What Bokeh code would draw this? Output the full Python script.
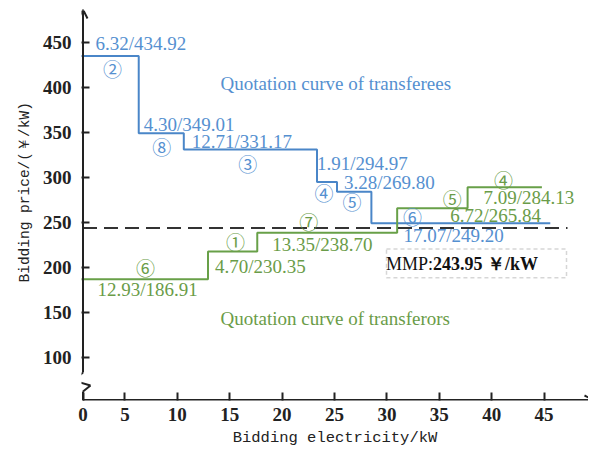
import math
from bokeh.plotting import figure
from bokeh.models import (FixedTicker, CustomJSTickFormatter, Arrow, OpenHead, Title,
                          BoxAnnotation, ColumnDataSource, Range1d)
from bokeh.core.properties import value
from bokeh.embed import file_html
from bokeh.resources import INLINE

# ---------------- data ----------------
buyer_qty = [6.32, 4.30, 12.71, 1.91, 3.28, 17.07]
buyer_price = [434.92, 349.01, 331.17, 294.97, 269.80, 249.20]      # quoted values (labels)
buyer_level = [434.92, 349.01, 331.17, 294.97, 284.0, 249.20]       # levels as drawn
buyer_ids = ["②", "⑧", "③", "④", "⑤", "⑥"]

seller_qty = [12.93, 4.70, 13.35, 6.72, 7.09]
seller_price = [186.91, 230.35, 238.70, 265.84, 284.13]
seller_level = [186.91, 217.6, 238.70, 265.84, 289.0]
seller_ids = ["⑥", "①", "⑦", "⑤", "④"]

mmp = 243.95
x_ticks = [5, 10, 15, 20, 25, 30, 35, 40, 45]
y_ticks = [100, 150, 200, 250, 300, 350, 400, 450]

# ---------------- layout ----------------
W, H = 588, 449
XS = 10.48            # px per kW
YS = 0.9025           # px per price unit
def X(px):
    return (px - 72) / XS
def Y(py):
    return 450 - (py - 42) / YS

BL, BR, BT = 81, 0, 10
BB = H - 401
x0, x1 = X(BL), X(W - BR)
y0, y1 = Y(401), Y(BT)
xa = X(82.5)          # position of drawn y axis

BLUE = "#4a86c8"
BLUE_T = "#5590d0"
GREEN = "#68a048"
GREEN_T = "#6a9c48"
DARK = "#222222"
SERIF = "Liberation Serif"
MONO = "Liberation Mono"
CIRC = "Noto Sans CJK SC"

p = figure(width=W, height=H, output_backend="svg", toolbar_location=None,
           x_range=Range1d(x0, x1), y_range=Range1d(y0, y1),
           min_border_left=BL, min_border_right=BR, min_border_top=BT, min_border_bottom=BB)
p.outline_line_color = None
p.grid.visible = False
p.background_fill_color = "white"
p.border_fill_color = "white"

for ax in (p.xaxis[0], p.yaxis[0]):
    ax.axis_line_color = None
    ax.major_tick_in = 8
    ax.major_tick_out = 0
    ax.minor_tick_in = 0
    ax.minor_tick_out = 0
    ax.major_tick_line_width = 2
    ax.major_tick_line_color = DARK
    ax.major_label_text_font = SERIF
    ax.major_label_text_font_size = "19px"
    ax.major_label_text_font_style = "bold"
    ax.major_label_text_color = DARK

p.xaxis.ticker = FixedTicker(ticks=[xa] + x_ticks)
p.xaxis.formatter = CustomJSTickFormatter(code="return tick < 2 ? '0' : tick.toFixed(0);")
p.xaxis.major_label_standoff = 7
p.xaxis.axis_label = "Bidding electricity/kW"
p.xaxis.axis_label_text_font = MONO
p.xaxis.axis_label_text_font_size = "15.5px"
p.xaxis.axis_label_text_font_style = "normal"
p.xaxis.axis_label_text_color = DARK
p.xaxis.axis_label_standoff = 5

p.yaxis.ticker = FixedTicker(ticks=y_ticks)
p.yaxis.major_label_standoff = 10

p.add_layout(Title(text="Bidding price/(￥/kW)", align="left", offset=118,
                   text_font=MONO, text_font_size="14.5px", text_font_style="normal",
                   text_color=DARK, standoff=14), "left")

# axes drawn as arrows (with a break on the y axis)
def seg(xa_, ya, xb, yb, head=False):
    p.add_layout(Arrow(x_start=xa_, y_start=ya, x_end=xb, y_end=yb, line_width=2,
                       line_color=DARK,
                       end=OpenHead(size=9, line_width=2, line_color=DARK) if head else None))

seg(xa, y0, xa, Y(392))
seg(xa, Y(392), X(90), Y(386))
seg(X(90), Y(386), X(73), Y(381))
seg(X(73), Y(381), xa, Y(373))
seg(xa, Y(373), xa, Y(9), head=True)
seg(xa, Y(400.5), X(593), Y(400.5), head=True)

# ---------------- step curves ----------------
def cum(q):
    out = [0.0]
    for v in q:
        out.append(out[-1] + v)
    return out

bx = cum(buyer_qty)
sx = cum(seller_qty)
p.step(bx, buyer_level + [buyer_level[-1]], mode="after", line_color=BLUE, line_width=2)
p.step(sx, seller_level + [seller_level[-1]], mode="after", line_color=GREEN, line_width=2)

# MMP line
p.line([xa, X(567)], [mmp, mmp], line_color="#333333", line_width=2, line_dash="14 7")

# ---------------- labels ----------------
def place(starts, levels, offs):
    xs, ys = [], []
    for s, lv, (dx, dy) in zip(starts, levels, offs):
        xs.append(s + dx / XS)
        ys.append(lv - dy / YS)
    return xs, ys

b_val_off = [(23, -12.6), (5, -9), (8, -8), (0, -19), (7, -9), (32, 12)]
b_id_off = [(40, 13), (23, 13), (64, 14), (7, 11), (15, 10), (41, -7)]
s_val_off = [(25, 10), (7, 15), (15, 12), (53, 7), (16, 10)]
s_id_off = [(73, -12), (27.5, -10.5), (51.5, -11), (55, -10), (36, -7.5)]

def texts(starts, levels, offs, strings, color, font, size, align):
    xs, ys = place(starts, levels, offs)
    src = ColumnDataSource(dict(x=xs, y=ys, t=strings))
    p.text(x="x", y="y", text="t", source=src, text_color=color,
           text_font=value(font), text_font_size=value(size),
           text_align=align, text_baseline="middle")

b_str = [f"{q:.2f}/{v:.2f}" for q, v in zip(buyer_qty, buyer_price)]
s_str = [f"{q:.2f}/{v:.2f}" for q, v in zip(seller_qty, seller_price)]
texts(bx[:-1], buyer_level, b_val_off, b_str, BLUE_T, SERIF, "19px", "left")
texts(bx[:-1], buyer_level, b_id_off, buyer_ids, BLUE_T, CIRC, "19px", "center")
texts(sx[:-1], seller_level, s_val_off, s_str, GREEN_T, SERIF, "19px", "left")
texts(sx[:-1], seller_level, s_id_off, seller_ids, GREEN_T, CIRC, "19px", "center")

p.text(x=[X(220)], y=[Y(83.5)], text=["Quotation curve of transferees"],
       text_color=BLUE_T, text_font=value(SERIF), text_font_size=value("19px"),
       text_align="left", text_baseline="middle")
p.text(x=[X(220)], y=[Y(318.5)], text=["Quotation curve of transferors"],
       text_color=GREEN_T, text_font=value(SERIF), text_font_size=value("19px"),
       text_align="left", text_baseline="middle")

# MMP box
p.text(x=[X(432.5)], y=[Y(264.5)], text=["MMP:"], text_color="#111111",
       text_font=value(SERIF), text_font_size=value("18px"), text_align="right",
       text_baseline="middle")
p.text(x=[X(432.5)], y=[Y(264.5)], text=["243.95 ￥/kW"], text_color="#111111",
       text_font=value(SERIF), text_font_size=value("18px"), text_font_style="bold",
       text_align="left", text_baseline="middle")
p.add_layout(BoxAnnotation(left=X(386), right=X(566), top=Y(249), bottom=Y(278),
                           fill_color=None, line_color="#777777", line_width=1.5,
                           line_dash="4 3"))

open("out.html", "w").write(file_html(p, INLINE))
